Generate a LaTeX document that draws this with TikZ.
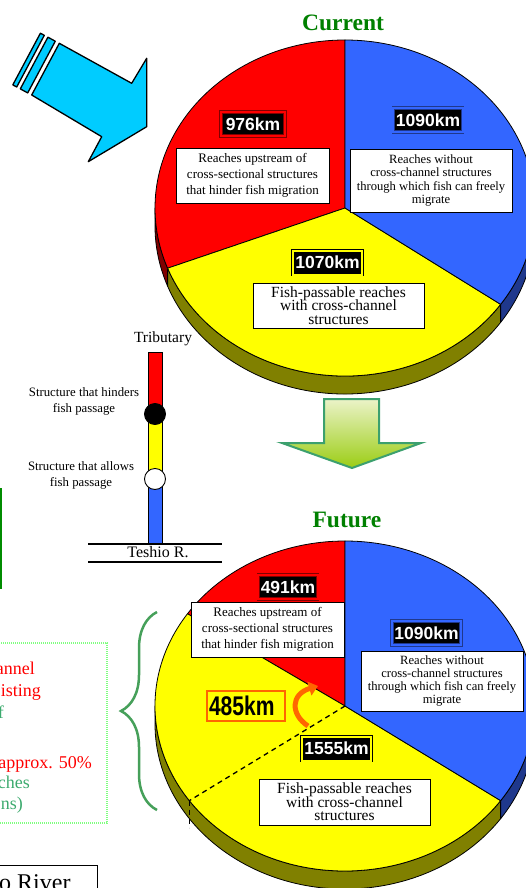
\documentclass[tikz,border=0pt]{standalone}
\usepackage{fontspec}
\setmainfont{Liberation Serif}
\newfontfamily\kmfont{Liberation Sans}
\newfontfamily\condfont[FakeStretch=0.78]{Liberation Sans}
\usetikzlibrary{arrows.meta,decorations.pathreplacing,calc}
\definecolor{pred}{RGB}{255,0,0}
\definecolor{pblue}{RGB}{51,102,255}
\definecolor{pyel}{RGB}{255,255,0}
\definecolor{sred}{RGB}{128,0,0}
\definecolor{sblue}{RGB}{31,56,140}
\definecolor{syel}{RGB}{128,128,0}
\definecolor{titlegreen}{RGB}{0,128,0}
\definecolor{arrowcyan}{RGB}{0,204,255}
\definecolor{orangea}{RGB}{255,102,0}
\definecolor{bracegreen}{RGB}{70,160,90}
\definecolor{notered}{RGB}{255,0,0}
\definecolor{notegreen}{RGB}{60,170,110}
\definecolor{arrowedge}{RGB}{60,160,110}
\definecolor{arrowtop}{RGB}{235,243,200}
\definecolor{arrowbot}{RGB}{155,205,20}
\AtBeginDocument{\lineskiplimit=-30pt\relax}
\begin{document}
\begin{tikzpicture}[x=1pt,y=1pt,
  sliceline/.style={draw=black, line width=0.8pt, line join=round},
  wbox/.style={draw=black, fill=white, line width=0.8pt, align=center, inner sep=0pt},
  kmbox/.style={fill=black, text=white, font=\kmfont\bfseries\fontsize{17.5}{18}\selectfont, line width=0.7pt, double distance=2pt, inner xsep=2.5pt, minimum height=24pt},
  titletext/.style={font=\bfseries\fontsize{23.5}{24}\selectfont, text=titlegreen},
  smalltext/.style={font=\fontsize{12.8}{16}\selectfont, align=center, inner sep=0pt},
  notetext/.style={font=\fontsize{18}{21}\selectfont, inner sep=0pt, anchor=base east}
]
\useasboundingbox (0,0) rectangle (525,-888);

% ---------- blue arrow (top left) ----------
\filldraw[fill=arrowcyan, draw=black, line width=1.3pt, line join=round]
  (59.3,-43.3) -- (131.7,-83.3) -- (146.7,-58.3) -- (146.7,-126.7) -- (88.3,-161.7) -- (101.7,-136.7) -- (31.7,-95) -- cycle;
\filldraw[fill=arrowcyan, draw=black, line width=1.3pt, line join=round]
  (55.3,-41.2) -- (47.9,-37.2) -- (20.3,-88.9) -- (27.7,-92.9) -- cycle;
\filldraw[fill=arrowcyan, draw=black, line width=1.3pt, line join=round]
  (44.3,-35.3) -- (40.4,-33.2) -- (12.8,-84.9) -- (16.7,-87) -- cycle;

% ---------- current pie ----------
\node[titletext] (cur) at (343,-23) {Current};
\coordinate (c1) at (345,-208);
% sides
\filldraw[fill=sred, sliceline] (c1) ++(180:190 and 168) arc[start angle=180, end angle=201, x radius=190, y radius=168] -- ++(0,-18) arc[start angle=201, end angle=180, x radius=190, y radius=168] -- cycle;
\filldraw[fill=syel, sliceline] (c1) ++(201:190 and 168) arc[start angle=201, end angle=325, x radius=190, y radius=168] -- ++(0,-18) arc[start angle=325, end angle=201, x radius=190, y radius=168] -- cycle;
\filldraw[fill=sblue, sliceline] (c1) ++(325:190 and 168) arc[start angle=325, end angle=360, x radius=190, y radius=168] -- ++(0,-18) arc[start angle=360, end angle=325, x radius=190, y radius=168] -- cycle;
% top faces
\filldraw[fill=pred, sliceline] (c1) -- ++(90:190 and 168) arc[start angle=90, end angle=201, x radius=190, y radius=168] -- cycle;
\filldraw[fill=pyel, sliceline] (c1) -- ++(201:190 and 168) arc[start angle=201, end angle=325, x radius=190, y radius=168] -- cycle;
\filldraw[fill=pblue, sliceline] (c1) -- ++(-35:190 and 168) arc[start angle=-35, end angle=90, x radius=190, y radius=168] -- cycle;

\node[kmbox, draw=sred, double=pred, minimum width=64pt] (k976) at (253,-124) {976km};
\node[kmbox, draw=sblue, double=pblue] (k1090) at (428,-120) {1090km};
\node[kmbox, draw=black, double=pyel] (k1070) at (327.5,-262.5) {1070km};
\node[wbox, minimum width=153pt, minimum height=55pt, font=\fontsize{13}{16}\selectfont] (t1) at (252.5,-175.5) {Reaches upstream of\\cross-sectional structures\\that hinder fish migration};
\node[wbox, minimum width=162pt, minimum height=63pt, font=\fontsize{12.6}{13.3}\selectfont] (t2) at (431,-180.5) {Reaches without\\cross-channel structures\\through which fish can freely\\migrate};
\node[wbox, minimum width=171pt, minimum height=45pt, font=\fontsize{15.5}{13.5}\selectfont] (t3) at (338.5,-305.5) {Fish-passable reaches\\with cross-channel\\structures};

% ---------- green down arrow ----------
\path[top color=arrowtop, bottom color=arrowbot, draw=arrowedge, line width=2pt, line join=miter]
  (324,-399) -- (379,-399) -- (379,-443) -- (421,-443) -- (352,-468) -- (282,-443) -- (324,-443) -- cycle;

% ---------- tributary schematic ----------
\node[font=\fontsize{15.5}{16}\selectfont, inner sep=0pt] (trib) at (163,-339) {Tributary};
\filldraw[fill=pred, draw=black, line width=0.9pt] (148,-352) rectangle (162,-414);
\filldraw[fill=pyel, draw=black, line width=0.9pt] (148,-414) rectangle (162,-479);
\filldraw[fill=pblue, draw=black, line width=0.9pt] (148,-479) rectangle (162,-544);
\node[circle, fill=black, draw=black, line width=0.9pt, minimum size=21pt, inner sep=0pt] (hinder) at (155,-414) {};
\node[circle, fill=white, draw=black, line width=0.9pt, minimum size=21pt, inner sep=0pt] (allow) at (155,-479) {};
\draw[line width=1.2pt] (88,-544) -- (222,-544);
\draw[line width=1.2pt] (88,-562) -- (222,-562);
\node[font=\fontsize{16}{16}\selectfont, inner sep=0pt] (teshio) at (158,-552) {Teshio R.};
\node[smalltext] (lh) at (84,-401) {Structure that hinders\\fish passage};
\node[smalltext] (la) at (81,-475) {Structure that allows\\fish passage};

% ---------- left partial boxes ----------
\draw[draw=green!55!black, line width=1.5pt] (-60,-489) rectangle (1,-588);
\draw[draw=green!50!white, line width=1.6pt, dash pattern=on 1.2pt off 0.8pt] (-60,-643) rectangle (107,-823);
\node[notetext, text=notered] (n1) at (35,-674) {annel};
\node[notetext, text=notered] (n2) at (41,-696) {isting};
\node[notetext, text=notegreen] (n3) at (4,-718) {f};
\node[notetext, text=notered] (n4) at (92,-768) {approx. 50\%};
\node[notetext, text=notegreen] (n5) at (30,-788) {ches};
\node[notetext, text=notegreen] (n6) at (23,-809) {ns)};
\draw[line width=1pt] (-60,-865) rectangle (97,-900);
\node[font=\fontsize{24}{24}\selectfont, inner sep=0pt, anchor=base west] (river) at (-1,-890) {o River};

% brace
\coordinate (bb) at (157,-810);
\coordinate (bt) at (157,-612);
\draw[bracegreen, line width=2.5pt, decorate, decoration={brace, amplitude=36pt}] (bb) -- (bt);

% ---------- future pie ----------
\node[titletext] (fut) at (347,-520) {Future};
\coordinate (c2) at (345,-706);
\filldraw[fill=syel, sliceline] (c2) ++(180:190 and 165) arc[start angle=180, end angle=325, x radius=190, y radius=165] -- ++(0,-18) arc[start angle=325, end angle=180, x radius=190, y radius=165] -- cycle;
\filldraw[fill=sblue, sliceline] (c2) ++(325:190 and 165) arc[start angle=325, end angle=360, x radius=190, y radius=165] -- ++(0,-18) arc[start angle=360, end angle=325, x radius=190, y radius=165] -- cycle;
\filldraw[fill=pred, sliceline] (c2) -- ++(90:190 and 165) arc[start angle=90, end angle=146, x radius=190, y radius=165] -- cycle;
\filldraw[fill=pyel, sliceline] (c2) -- ++(146:190 and 165) arc[start angle=146, end angle=325, x radius=190, y radius=165] -- cycle;
\filldraw[fill=pblue, sliceline] (c2) -- ++(-35:190 and 165) arc[start angle=-35, end angle=90, x radius=190, y radius=165] -- cycle;
\coordinate (fd) at ($(c2)+(215:190 and 165)$);
\coordinate (fdb) at ($(fd)+(0,-27)$);
\draw[line width=1.3pt, dash pattern=on 5pt off 4pt] (c2) -- (fd);
\draw[line width=1.3pt, dash pattern=on 5pt off 4pt] (fd) -- (fdb);

\node[kmbox, draw=sred, double=pred] (k491) at (288,-587) {491km};
\node[kmbox, draw=sblue, double=pblue] (k1090b) at (426.5,-633) {1090km};
\node[kmbox, draw=black, double=pyel] (k1555) at (336.5,-748.5) {1555km};
\node[wbox, minimum width=153pt, minimum height=55pt, font=\fontsize{13}{16}\selectfont] (f1) at (267.5,-629.5) {Reaches upstream of\\cross-sectional structures\\that hinder fish migration};
\node[wbox, minimum width=162pt, minimum height=60pt, font=\fontsize{12.6}{13.3}\selectfont] (f2) at (442,-681) {Reaches without\\cross-channel structures\\through which fish can freely\\migrate};
\node[wbox, minimum width=171pt, minimum height=46pt, font=\fontsize{15.5}{13.5}\selectfont] (f3) at (344.5,-802) {Fish-passable reaches\\with cross-channel\\structures};

\node[draw=orangea, line width=1.8pt, text width=74pt, align=left, inner xsep=2pt, minimum height=30pt, font=\condfont\bfseries\fontsize{27}{27}\selectfont] (k485) at (246,-706) {485km};
\coordinate (oa) at (308,-726);
\coordinate (ob) at (318,-686);
\draw[orangea, line width=5pt, -{Triangle[length=9pt,width=14pt]}] (oa) .. controls (290,-714) and (291,-694) .. (ob);
\end{tikzpicture}
\end{document}
